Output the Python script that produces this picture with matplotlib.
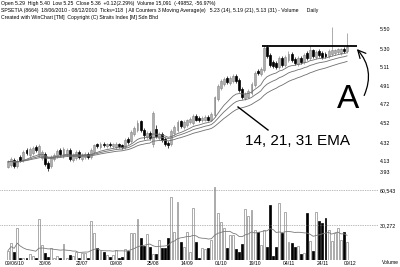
import numpy as np
import pandas as pd
import matplotlib
matplotlib.use("Agg")
import matplotlib.pyplot as plt
from matplotlib.patches import FancyArrowPatch
from matplotlib.lines import Line2D

# daily candles, SPSETIA, Jun - Dec 2010
opens = [4.07, 4.09, 4.14, 4.08, 4.17, 4.14, 4.24, 4.19, 4.21, 4.27,
         4.19, 4.16, 4.20, 4.11, 4.08, 4.15, 4.18, 4.24, 4.18, 4.20,
         4.24, 4.14, 4.16, 4.22, 4.15, 4.17, 4.20, 4.17, 4.22, 4.31,
         4.27, 4.31, 4.28, 4.31, 4.28, 4.27, 4.30, 4.29, 4.27, 4.36,
         4.34, 4.41, 4.45, 4.54, 4.45, 4.38, 4.42, 4.30, 4.46, 4.37,
         4.41, 4.36, 4.32, 4.30, 4.42, 4.45, 4.54, 4.48, 4.50, 4.53,
         4.52, 4.60, 4.58, 4.55, 4.56, 4.59, 4.56, 4.61, 4.77, 4.89,
         4.93, 4.99, 4.94, 4.96, 5.01, 4.97, 4.88, 4.78, 4.80, 4.84,
         4.92, 5.07, 5.03, 5.08, 5.32, 5.23, 5.16, 5.15, 5.11, 5.20,
         5.13, 5.18, 5.24, 5.19, 5.14, 5.20, 5.16, 5.25, 5.20, 5.28,
         5.21, 5.27, 5.25, 5.24, 5.22, 5.24, 5.25, 5.26, 5.25, 5.30, 5.27]
closes = [4.12, 4.15, 4.08, 4.13, 4.14, 4.22, 4.21, 4.25, 4.26, 4.24,
          4.28, 4.22, 4.10, 4.06, 4.17, 4.19, 4.23, 4.20, 4.25, 4.24,
          4.15, 4.19, 4.22, 4.17, 4.19, 4.20, 4.17, 4.24, 4.29, 4.28,
          4.31, 4.29, 4.30, 4.29, 4.30, 4.31, 4.28, 4.27, 4.35, 4.33,
          4.43, 4.47, 4.52, 4.45, 4.40, 4.42, 4.37, 4.63, 4.39, 4.41,
          4.35, 4.31, 4.29, 4.44, 4.48, 4.53, 4.49, 4.53, 4.55, 4.57,
          4.60, 4.56, 4.55, 4.58, 4.59, 4.56, 4.62, 4.79, 4.91, 4.96,
          4.98, 4.95, 4.99, 5.01, 4.96, 4.87, 4.80, 4.83, 4.86, 4.93,
          5.05, 5.04, 5.09, 5.31, 5.22, 5.13, 5.12, 5.11, 5.20, 5.13,
          5.21, 5.24, 5.18, 5.15, 5.20, 5.16, 5.23, 5.20, 5.28, 5.22,
          5.26, 5.23, 5.21, 5.22, 5.27, 5.28, 5.28, 5.29, 5.29, 5.27, 5.32]
highs = [4.14, 4.17, 4.16, 4.15, 4.19, 4.24, 4.26, 4.27, 4.28, 4.29,
         4.30, 4.24, 4.22, 4.13, 4.19, 4.21, 4.25, 4.26, 4.27, 4.26,
         4.26, 4.21, 4.24, 4.24, 4.21, 4.22, 4.22, 4.26, 4.31, 4.32,
         4.33, 4.33, 4.32, 4.33, 4.32, 4.33, 4.32, 4.31, 4.37, 4.38,
         4.45, 4.49, 4.55, 4.56, 4.47, 4.44, 4.44, 4.65, 4.50, 4.43,
         4.43, 4.38, 4.34, 4.46, 4.50, 4.55, 4.56, 4.55, 4.57, 4.59,
         4.62, 4.62, 4.60, 4.60, 4.61, 4.61, 4.64, 4.81, 4.93, 4.98,
         5.00, 5.01, 5.01, 5.03, 5.03, 4.99, 4.90, 4.85, 4.88, 4.95,
         5.07, 5.09, 5.11, 5.34, 5.34, 5.25, 5.18, 5.17, 5.22, 5.22,
         5.23, 5.27, 5.26, 5.21, 5.22, 5.22, 5.25, 5.27, 5.33, 5.30,
         5.28, 5.29, 5.27, 5.26, 5.29, 5.52, 5.30, 5.31, 5.31, 5.32, 5.46]
lows = [4.05, 4.07, 4.06, 4.06, 4.12, 4.12, 4.19, 4.17, 4.19, 4.22,
        4.17, 4.14, 4.08, 4.02, 4.06, 4.13, 4.16, 4.18, 4.16, 4.18,
        4.13, 4.12, 4.14, 4.15, 4.13, 4.15, 4.15, 4.15, 4.20, 4.26,
        4.25, 4.27, 4.26, 4.27, 4.26, 4.25, 4.26, 4.25, 4.25, 4.31,
        4.32, 4.39, 4.43, 4.43, 4.36, 4.36, 4.35, 4.27, 4.37, 4.35,
        4.33, 4.28, 4.26, 4.28, 4.40, 4.43, 4.47, 4.46, 4.48, 4.51,
        4.50, 4.54, 4.53, 4.53, 4.54, 4.54, 4.54, 4.59, 4.75, 4.87,
        4.91, 4.93, 4.92, 4.94, 4.94, 4.85, 4.77, 4.76, 4.78, 4.82,
        4.90, 5.02, 5.01, 5.06, 5.20, 5.11, 5.10, 5.09, 5.09, 5.11,
        5.11, 5.16, 5.16, 5.13, 5.12, 5.14, 5.14, 5.18, 5.18, 5.20,
        5.19, 5.21, 5.19, 5.20, 5.20, 5.22, 5.23, 5.24, 5.23, 5.25, 5.25]
volumes = [7800, 14700, 6900, 27700, 1700, 1700, 1700, 5200, 3500, 1700,
           35500, 13000, 6100, 2600, 10400, 1700, 3500, 1700, 13800, 1700,
           4300, 3500, 6900, 1700, 6100, 6100, 1700, 33700, 23400, 10400,
           7800, 6900, 4300, 2600, 4300, 8700, 1700, 2600, 9500, 7800,
           23400, 23400, 35500, 19000, 12100, 22500, 11200, 5200, 5200, 17300,
           10400, 10400, 19000, 54500, 24200, 50200, 15600, 11200, 24200, 6900,
           45000, 15600, 1700, 10400, 9500, 10400, 17300, 63100, 40700, 32900,
           27700, 10400, 21600, 21600, 9500, 6900, 13800, 44100, 38100, 43300,
           26000, 24200, 13000, 26000, 11200, 47600, 3500, 11200, 49300, 23400,
           41500, 15600, 14700, 11200, 12100, 5200, 6100, 40700, 16400, 7800,
           41500, 33700, 32000, 36300, 26000, 16400, 23400, 27700, 17300, 24200, 15600]

price_ticks = [5.50, 5.30, 5.11, 4.91, 4.72, 4.52, 4.32, 4.13]
vol_ticks = [60543, 30272]
date_pos = [2, 12, 24, 35, 47, 58, 69, 80, 91, 102, 111]
date_labels = ["09/06/10", "30/06", "22/07", "09/08", "25/08", "14/09",
               "01/10", "19/10", "04/11", "24/11", "09/12"]
ema_spans = [14, 21, 31]
resistance = 5.33

W, H = 400, 267
FONT = "Liberation Sans"
plt.rcParams["font.family"] = FONT

fig = plt.figure(figsize=(4, 2.67), dpi=100)


def box(left, top, right, bottom):
    return [left / W, 1 - bottom / H, (right - left) / W, (bottom - top) / H]


def fx(x):
    return x / W


def fy(y):
    return 1 - y / H


ax = fig.add_axes(box(0, 25, 356, 180))
axv = fig.add_axes(box(0, 183, 356, 259.5))

x = np.arange(len(closes))
o = np.array(opens)
c = np.array(closes)
up = c >= o
grey = "#8a8a8a"

# candles
for i in x:
    col = grey if up[i] else "black"
    ax.vlines(i, lows[i], highs[i], color=col, lw=0.5)
bot = np.minimum(o, c)
hgt = np.maximum(np.abs(c - o), 0.004)
ax.bar(x[up], hgt[up], bottom=bot[up], width=0.62, color="white",
       edgecolor=grey, linewidth=0.5)
ax.bar(x[~up], hgt[~up], bottom=bot[~up], width=0.62, color="black",
       edgecolor="black", linewidth=0.5)

# moving averages
s = pd.Series(closes)
for span in ema_spans:
    ax.plot(x, s.ewm(span=span, adjust=False).mean(), color="#6e6e6e", lw=0.6)

ax.hlines(resistance, 82.4, 113.2, color="black", lw=1.3, clip_on=False)

ax.set_xlim(-2.6, 112.9)
ax.set_ylim(3.93, 5.545)
ax.set_yticks(price_ticks)
ax.set_yticklabels([f"{t:.2f}" for t in price_ticks])
ax.tick_params(axis="y", left=False, labelleft=False, right=True,
               labelright=True, length=0, pad=17, labelsize=3.8)
ax.set_xticks([])
for sp in ax.spines.values():
    sp.set_visible(False)
fig.text(fx(380), fy(172), "3.93", fontsize=3.8, va="center", ha="left")

# volume
v = np.array(volumes)
axv.bar(x[up], v[up], width=0.62, color="white", edgecolor=grey, linewidth=0.5)
axv.bar(x[~up], v[~up], width=0.62, color="black", edgecolor="black", linewidth=0.5)
axv.plot(x, pd.Series(volumes).rolling(20, min_periods=1).mean(),
         color="#7a7a7a", lw=0.6)
for t in vol_ticks:
    axv.axhline(t, xmin=0, xmax=378 / 356, color="#777777", lw=0.5,
                ls=(0, (1, 1.5)), clip_on=False)
axv.set_xlim(-2.6, 112.9)
axv.set_ylim(0, 67000)
axv.set_yticks(vol_ticks)
axv.set_yticklabels([f"{t:,}" for t in vol_ticks])
axv.tick_params(axis="y", left=False, labelleft=False, right=True,
                labelright=True, length=0, pad=17, labelsize=3.8)
axv.set_xticks(date_pos)
axv.set_xticklabels(date_labels)
axv.tick_params(axis="x", length=0, pad=0.8, labelsize=3.6)
for sp in axv.spines.values():
    sp.set_visible(False)
fig.text(fx(382), fy(263), "Volume", fontsize=3.6, va="center", ha="left")

# header
hdr = ["Open 5.29  High 5.40  Low 5.25  Close 5.36  +0.12(2.29%)  Volume 15,091  (-49852, -56.97%)",
       "SPSETIA (8664)  18/06/2010 - 08/12/2010  Ticks=118  | All Counters 3 Moving Average(e)   "
       "5.23 (14), 5.19 (21), 5.13 (31) - Volume      Daily",
       "Created with WinChart [TM]  Copyright (C) Straits Index [M] Sdn Bhd"]
for k, line in enumerate(hdr):
    fig.text(fx(1), fy(3.5 + 7 * k), line, fontsize=3.7, va="center", ha="left")

# annotations
fig.text(fx(245), fy(145), "14, 21, 31 EMA", fontsize=11, va="baseline", ha="left")
fig.add_artist(Line2D([fx(238), fx(268)], [fy(107), fy(130)], color="black",
                      lw=1.0, transform=fig.transFigure))
fig.text(fx(348), fy(108), "A", fontsize=24, va="baseline", ha="center")
fig.add_artist(FancyArrowPatch((fx(363), fy(98)), (fx(355), fy(47)),
                               transform=fig.transFigure,
                               connectionstyle="arc3,rad=0.35",
                               arrowstyle="->", mutation_scale=14,
                               color="black", lw=0.9))

fig.savefig("out.png", dpi=100)
